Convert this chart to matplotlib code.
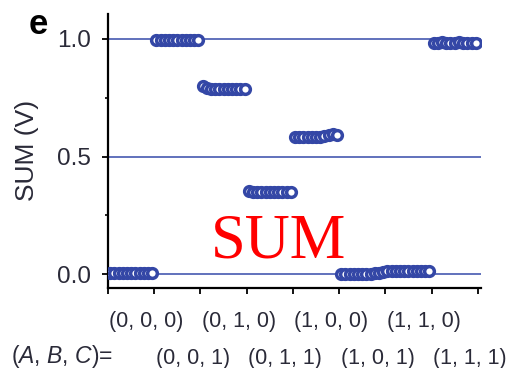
import matplotlib
matplotlib.use("Agg")
import matplotlib.pyplot as plt
import matplotlib.transforms as mtransforms
import numpy as np

# input states (A, B, C) in measurement order, and the sampled SUM output for each
states = ["(0, 0, 0)", "(0, 0, 1)", "(0, 1, 0)", "(0, 1, 1)",
          "(1, 0, 0)", "(1, 0, 1)", "(1, 1, 0)", "(1, 1, 1)"]

sum_000 = [0.004, 0.004, 0.003, 0.004, 0.003, 0.004, 0.004, 0.003, 0.004, 0.004, 0.004]
sum_001 = [0.996, 0.996, 0.997, 0.996, 0.996, 0.996, 0.997, 0.996, 0.996, 0.996, 0.996]
sum_010 = [0.800, 0.792, 0.788, 0.786, 0.787, 0.786, 0.787, 0.786, 0.786, 0.787, 0.786]
sum_011 = [0.352, 0.351, 0.351, 0.350, 0.351, 0.350, 0.350, 0.351, 0.350, 0.350, 0.351]
sum_100 = [0.582, 0.582, 0.583, 0.582, 0.583, 0.583, 0.584, 0.586, 0.592, 0.594, 0.590]
sum_101 = [0.002, 0.001, 0.002, 0.001, 0.001, 0.002, 0.001, 0.002, 0.003, 0.006, 0.008]
sum_110 = [0.013, 0.013, 0.014, 0.013, 0.014, 0.014, 0.013, 0.014, 0.013, 0.014, 0.013]
sum_111 = [0.984, 0.984, 0.985, 0.984, 0.984, 0.984, 0.985, 0.984, 0.984, 0.984, 0.984]
sum_traces = [sum_000, sum_001, sum_010, sum_011, sum_100, sum_101, sum_110, sum_111]

BLUE = "#3447a6"
LINE = "#4659b0"
INK = "#2a2a38"

plt.rcParams["font.family"] = ["Liberation Sans", "DejaVu Sans"]
plt.rcParams["mathtext.fontset"] = "custom"
plt.rcParams["mathtext.it"] = "Liberation Sans:italic"
plt.rcParams["mathtext.rm"] = "Liberation Sans"

fig = plt.figure(figsize=(5.17, 3.68), dpi=100)
ax = fig.add_axes([0.209, 0.218, 0.721, 0.744])

for y in (0.0, 0.5, 1.0):
    ax.axhline(y, color=LINE, lw=1.2, zorder=1)

# each state gets one unit of the time axis, samples spread evenly across it
for k, trace in enumerate(sum_traces):
    n = len(trace)
    xs = k + (np.arange(n) + 0.5) / n
    ax.plot(xs, trace, ls="none", marker="o", ms=7.0, mfc="white",
            mec=BLUE, mew=2.5, zorder=3)

ax.set_xlim(0, 8.065)
ax.set_ylim(-0.058, 1.106)
ax.set_xticks(np.arange(9))
ax.set_xticklabels([])
ax.set_yticks([0.0, 0.5, 1.0])
ax.set_yticklabels(["0.0", "0.5", "1.0"])
ax.set_yticks([0.25, 0.75], minor=True)
ax.tick_params(axis="both", which="major", direction="out", length=4.5,
               width=1.3, color="black", labelsize=17.5, labelcolor=INK, pad=8)
ax.tick_params(axis="y", which="minor", direction="out", length=2.5, width=1.2)

for side in ("top", "right"):
    ax.spines[side].set_visible(False)
for side in ("left", "bottom"):
    ax.spines[side].set_linewidth(1.6)

ax.set_ylabel("SUM (V)", fontsize=19, color=INK, labelpad=13)

# state labels staggered over two rows under the axis
trans = mtransforms.blended_transform_factory(ax.transData, ax.transAxes)
for k, lab in enumerate(states):
    yrow = -0.125 if k % 2 == 0 else -0.258
    ax.text(k + 0.83, yrow, lab, transform=trans, ha="center", va="center",
            fontsize=15.5, color=INK)
fig.text(0.022, 1 - 356 / 368, r"($A$, $B$, $C$)=", ha="left", va="center",
         fontsize=16.5, color=INK)

ax.text(3.68, 0.072, "SUM", ha="center", va="baseline", color="red",
        fontsize=45, family=["Liberation Serif", "DejaVu Serif"], zorder=4)

fig.text(0.074, 1 - 24 / 368, "e", ha="center", va="center",
         fontsize=25, fontweight="bold", color="black")

fig.savefig("out.png", dpi=100)
